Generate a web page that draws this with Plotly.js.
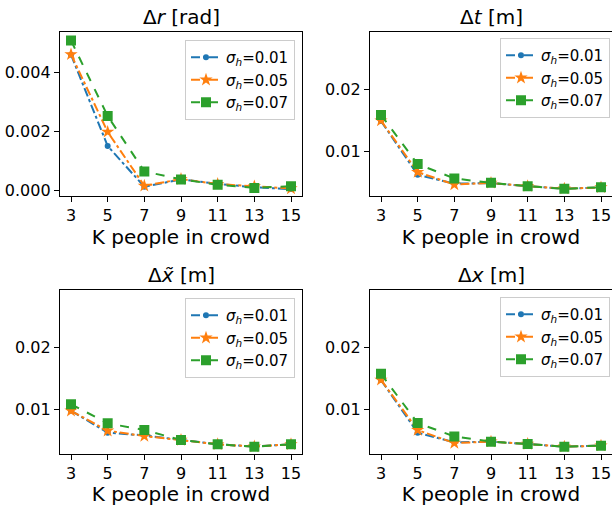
<!DOCTYPE html>
<html>
<head>
<meta charset="utf-8">
<script src="https://cdn.plot.ly/plotly-3.0.1.min.js"></script>
<style>html,body{margin:0;padding:0;background:#fff;}#plot{width:612px;height:506px;}</style>
</head>
<body>
<div id="plot"></div>
<script>
const K = [3, 5, 7, 9, 11, 13, 15];
const seriesNames = ['<i>σ</i><sub><i>h</i></sub>=0.01', '<i>σ</i><sub><i>h</i></sub>=0.05', '<i>σ</i><sub><i>h</i></sub>=0.07'];
const panelTitles = ['Δ<i>r</i> [rad]', 'Δ<i>t</i> [m]', 'Δ<i>x̃</i> [m]', 'Δ<i>x</i> [m]'];
const xLabel = 'K people in crowd';

// Δr [rad]
const dr_001 = [0.00460, 0.00150, 0.00012, 0.00037, 0.00022, 0.00010, 0.00004];
const dr_005 = [0.00461, 0.00198, 0.00015, 0.00038, 0.00021, 0.00013, 0.00006];
const dr_007 = [0.00508, 0.00252, 0.00064, 0.00037, 0.00019, 0.00008, 0.00014];
// Δt [m]
const dt_001 = [0.01490, 0.00632, 0.00490, 0.00500, 0.00450, 0.00410, 0.00430];
const dt_005 = [0.01497, 0.00675, 0.00477, 0.00502, 0.00450, 0.00410, 0.00430];
const dt_007 = [0.01588, 0.00803, 0.00574, 0.00503, 0.00450, 0.00407, 0.00434];
// Δx~ [m]
const dxt_001 = [0.00985, 0.00633, 0.00590, 0.00517, 0.00448, 0.00412, 0.00448];
const dxt_005 = [0.00984, 0.00665, 0.00580, 0.00517, 0.00448, 0.00412, 0.00448];
const dxt_007 = [0.01090, 0.00783, 0.00676, 0.00517, 0.00448, 0.00410, 0.00448];
// Δx [m]
const dx_001 = [0.01475, 0.00633, 0.00480, 0.00490, 0.00453, 0.00410, 0.00426];
const dx_005 = [0.01478, 0.00676, 0.00469, 0.00490, 0.00453, 0.00410, 0.00426];
const dx_007 = [0.01574, 0.00788, 0.00574, 0.00490, 0.00453, 0.00410, 0.00426];

const panels = [
  [dr_001, dr_005, dr_007],
  [dt_001, dt_005, dt_007],
  [dxt_001, dxt_005, dxt_007],
  [dx_001, dx_005, dx_007]
];

const colors = ['#1f77b4', '#ff7f0e', '#2ca02c'];
const dashes = ['dashdot', 'dashdot', 'dash'];
const symbols = ['circle', 'star', 'square'];
const msizes = [6, 10, 10];
const FONT = 'DejaVu Sans';

const traces = [];
panels.forEach((p, i) => {
  const ax = i === 0 ? '' : String(i + 1);
  p.forEach((vals, j) => {
    traces.push({
      x: K, y: vals, type: 'scatter', mode: 'lines+markers',
      name: seriesNames[j],
      xaxis: 'x' + ax, yaxis: 'y' + ax,
      legend: i === 0 ? 'legend' : 'legend' + (i + 1),
      line: {color: colors[j], width: 2, dash: dashes[j]},
      marker: {color: colors[j], symbol: symbols[j], size: msizes[j], line: {width: 0}}
    });
  });
});

const W = 612, H = 506;
const xd = [[60 / W, 302 / W], [370 / W, 612 / W]];
const yd = [[(H - 196) / H, (H - 32.3) / H], [(H - 454) / H, (H - 290.3) / H]];

const layout = {
  width: W, height: H,
  margin: {l: 0, r: 0, t: 0, b: 0},
  paper_bgcolor: '#fff', plot_bgcolor: '#fff',
  font: {family: FONT, size: 16, color: '#000'},
  annotations: [],
  showlegend: true
};

const legPos = [
  {x: 295 / W, y: (H - 40) / H},
  {x: 610 / W, y: (H - 38) / H},
  {x: 295 / W, y: (H - 298) / H},
  {x: 610 / W, y: (H - 297) / H}
];

for (let i = 0; i < 4; i++) {
  const ax = i === 0 ? '' : String(i + 1);
  const col = i % 2, row = Math.floor(i / 2);
  const xa = {
    domain: xd[col], anchor: 'y' + ax, range: [2.4, 15.6],
    tickvals: K, ticktext: K.map(String),
    ticks: 'outside', ticklen: 5, tickwidth: 1, tickcolor: '#000',
    showline: true, mirror: true, linecolor: '#000', linewidth: 1.2,
    showgrid: false, zeroline: false,
    tickfont: {family: FONT, size: 16},
    title: {text: xLabel, font: {family: FONT, size: 20}, standoff: 4}
  };
  const ya = {
    domain: yd[row], anchor: 'x' + ax,
    ticks: 'outside', ticklen: 5, tickwidth: 1, tickcolor: '#000',
    showline: true, mirror: true, linecolor: '#000', linewidth: 1.2,
    showgrid: false, zeroline: false,
    tickfont: {family: FONT, size: 16}
  };
  if (i === 0) {
    ya.range = [-0.000194, 0.00536];
    ya.tickvals = [0, 0.002, 0.004];
    ya.tickformat = '.3f';
  } else {
    ya.range = [0.00293, 0.0291];
    ya.tickvals = [0.01, 0.02];
    ya.tickformat = '.2f';
  }
  layout['xaxis' + ax] = xa;
  layout['yaxis' + ax] = ya;
  layout.annotations.push({
    text: panelTitles[i], xref: 'x' + ax + ' domain', yref: 'y' + ax + ' domain',
    x: 0.5, y: 1, xanchor: 'center', yanchor: 'bottom', yshift: 1,
    showarrow: false, font: {family: FONT, size: 20, color: '#000'}
  });
  layout[i === 0 ? 'legend' : 'legend' + (i + 1)] = {
    x: legPos[i].x, y: legPos[i].y, xanchor: 'right', yanchor: 'top',
    xref: 'paper', yref: 'paper',
    bgcolor: 'rgba(255,255,255,0.8)', bordercolor: '#cccccc', borderwidth: 1,
    font: {family: FONT, size: 15, color: '#000'},
    tracegroupgap: 0, itemwidth: 30
  };
}

Plotly.newPlot('plot', traces, layout, {staticPlot: true, displayModeBar: false});
</script>
</body>
</html>
